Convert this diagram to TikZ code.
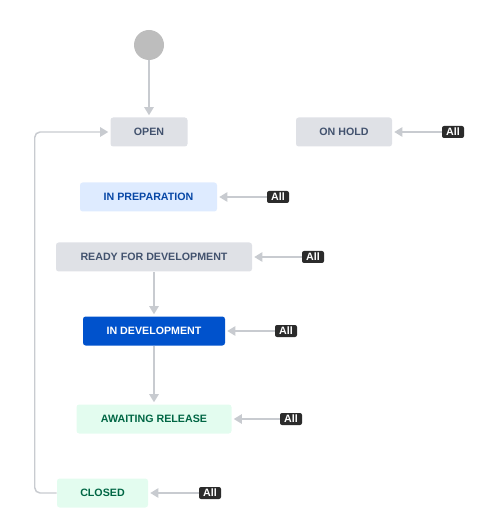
\documentclass[tikz,border=0pt]{standalone}
\usepackage{fontspec}
\setmainfont{Liberation Sans}
\usepackage{xcolor}
\usetikzlibrary{arrows.meta}

\definecolor{boxgray}{HTML}{DFE1E6}
\definecolor{textgray}{HTML}{42526E}
\definecolor{prepfill}{HTML}{DEEBFF}
\definecolor{preptext}{HTML}{0747A6}
\definecolor{devfill}{HTML}{0052CC}
\definecolor{donefill}{HTML}{E3FCEF}
\definecolor{donetext}{HTML}{006644}
\definecolor{linegray}{HTML}{C8CBD0}
\definecolor{startgray}{HTML}{BDBDBD}
\definecolor{badgefill}{HTML}{2B2B2B}

\tikzset{
  status/.style={rounded corners=2pt, inner sep=0pt, minimum height=29*0.75pt,
    font=\bfseries\fontsize{8}{9.5}\selectfont},
  todo/.style={status, fill=boxgray, text=textgray},
  badge/.style={rounded corners=1.5pt, fill=badgefill, text=white, inner sep=0pt,
    minimum width=22*0.75pt, minimum height=12*0.75pt, font=\bfseries\fontsize{8}{9.5}\selectfont},
  flow/.style={draw=linegray, line width=1.1pt, -{Triangle[length=6pt,width=7pt]}, shorten >=1.5pt},
}

\begin{document}
\begin{tikzpicture}[x=0.75pt, y=-0.75pt]
\useasboundingbox (0,0) rectangle (487,523);
% initial state
\node[circle, fill=startgray, minimum size=30*0.75pt, inner sep=0pt] (start) at (149,45) {};
% statuses
\node[todo, minimum width=77*0.75pt] (open) at (149,132) {OPEN};
\node[todo, minimum width=96*0.75pt] (onhold) at (344,132) {ON HOLD};
\node[status, fill=prepfill, text=preptext, minimum width=137*0.75pt] (prep) at (148.5,197) {IN PREPARATION};
\node[todo, minimum width=196*0.75pt] (ready) at (154,257) {READY FOR DEVELOPMENT};
\node[status, fill=devfill, text=white, minimum width=142*0.75pt] (indev) at (154,331) {IN DEVELOPMENT};
\node[status, fill=donefill, text=donetext, minimum width=155*0.75pt] (await) at (154,419) {AWAITING RELEASE};
\node[status, fill=donefill, text=donetext, minimum width=91*0.75pt] (closed) at (102.5,493) {CLOSED};
% global transitions
\node[badge] (allhold) at (453,132) {All};
\node[badge] (allprep) at (278,197) {All};
\node[badge] (allready) at (313,257) {All};
\node[badge] (alldev) at (286,331) {All};
\node[badge] (allawait) at (291,419) {All};
\node[badge] (allclosed) at (210,493) {All};
\foreach \b/\s in {allhold/onhold, allprep/prep, allready/ready, alldev/indev, allawait/await, allclosed/closed}
  \draw[flow] (\b.west) -- (\s.east);
% transitions
\draw[flow] (start.south) -- (open.north);
\draw[flow] (ready.south) -- (indev.north);
\draw[flow] (indev.south) -- (await.north);
\draw[flow, rounded corners=4pt] (closed.west) -- ++(-22,0) |- (open.west);
\end{tikzpicture}
\end{document}
